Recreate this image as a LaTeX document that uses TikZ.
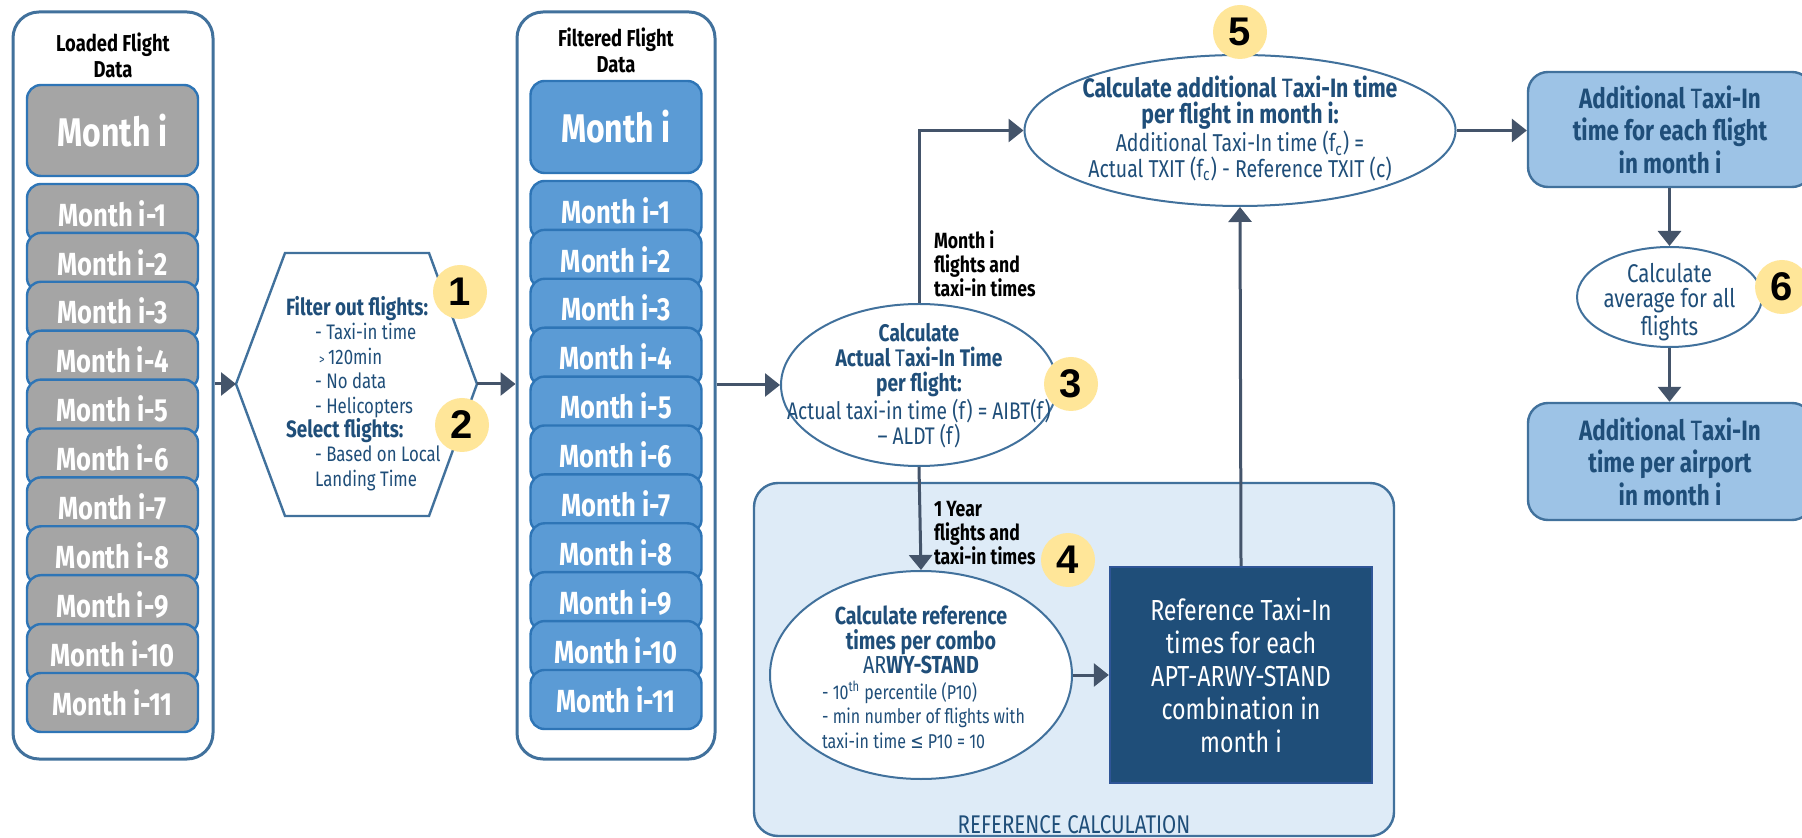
\documentclass[tikz,border=0pt]{standalone}
\usepackage{fontspec}
\setmainfont{Fira Sans}[FakeStretch=0.8]
\newfontfamily\numfont{Liberation Sans}
\newfontfamily\symfont{DejaVu Sans}[FakeStretch=0.8]
\usetikzlibrary{shapes.geometric,arrows.meta,calc}

\definecolor{arrowc}{HTML}{44546A}
\definecolor{frame}{HTML}{41719C}
\definecolor{mborder}{HTML}{2E75B6}
\definecolor{mgray}{HTML}{A5A5A5}
\definecolor{mblue}{HTML}{5B9BD5}
\definecolor{txtblue}{HTML}{1F4E79}
\definecolor{badgec}{HTML}{FFE699}
\definecolor{refbg}{HTML}{DEEBF7}
\definecolor{darkfill}{HTML}{1F4E79}
\definecolor{darkedge}{HTML}{2F5597}
\definecolor{resfill}{HTML}{9DC3E6}

\newcommand\fsz[2]{\fontsize{#1}{#2}\selectfont}

\tikzset{
  container/.style={draw=frame, line width=1.5pt, fill=white, rounded corners=13pt, inner sep=0pt},
  monthbox/.style={draw=mborder, line width=1.2pt, rounded corners=7pt, inner sep=0pt,
    minimum width=85.5pt, minimum height=29.5pt, text=white, font=\bfseries\fsz{16}{16}},
  graymonth/.style={monthbox, fill=mgray},
  bluemonth/.style={monthbox, fill=mblue},
  flow/.style={draw=arrowc, line width=1.5pt, -{Triangle[length=7.5pt,width=11.5pt]}},
  ell/.style={ellipse, draw=frame, line width=1pt, fill=white, inner sep=0pt},
  badge/.style={circle, fill=badgec, minimum size=27pt, inner sep=0pt,
    font=\numfont\bfseries\fsz{20}{20}},
  result/.style={draw=frame, line width=1.2pt, fill=resfill, rounded corners=10pt,
    inner sep=0pt, text=txtblue, align=center, font=\bfseries\fsz{14}{16.25}},
  tbody/.style={text=txtblue, align=center},
  sidelabel/.style={anchor=west, align=left, text=black, font=\bfseries\fsz{11}{12}}
}

\begin{document}
\begin{tikzpicture}[x=0.5pt, y=-0.5pt]
\useasboundingbox[fill=white] (0,0) rectangle (1802,838);

% ---- loaded flight data ----
\node[container, minimum width=100pt, minimum height=373.5pt] (loaded) at (113,385.5) {};
\node[align=center, font=\bfseries\fsz{11.5}{13}] (loadedt) at (113,55) {Loaded Flight\\Data};
\node[graymonth, minimum height=45.5pt, font=\bfseries\fsz{20}{20}] (lm0) at (112.5,130.5) {Month i};
\foreach \k in {1,...,11} {
  \pgfmathsetmacro\yc{184+(\k-1)*48.9+29.5}
  \node[graymonth] (lm\k) at (112.5,\yc) {Month i-\k};
}

% ---- filter step ----
\coordinate (hexL) at (236,384);
\coordinate (hexR) at (477,384);
\draw[draw=frame, line width=1.2pt, fill=white]
  (hexL) -- (285,253) -- (429,253) -- (hexR) -- (429,516) -- (285,516) -- cycle;
\node[anchor=west, align=left, text=txtblue, font=\fsz{10.5}{12.2}] (filtt) at (279,393.5)
  {{\bfseries\fsz{11.8}{12.2}Filter out flights:}\\
   \hspace*{14.5pt}- Taxi-in time\\
   \hspace*{16.5pt}{\fsz{7}{12.2}>}\,120min\\
   \hspace*{14.5pt}- No data\\
   \hspace*{14.5pt}- Helicopters\\
   {\bfseries\fsz{11.8}{12.2}Select flights:}\\
   \hspace*{14.5pt}- Based on Local\\
   \hspace*{14.5pt}Landing Time};
\node[badge] (b1) at (460,292) {1};
\node[badge] (b2) at (462,425) {2};

% ---- filtered flight data ----
\node[container, minimum width=99pt, minimum height=373.5pt] (filtered) at (616,385.5) {};
\node[align=center, font=\bfseries\fsz{11.5}{13}] (filteredt) at (616,50) {Filtered Flight\\Data};
\node[bluemonth, minimum height=46pt, font=\bfseries\fsz{20}{20}] (fm0) at (616,127) {Month i};
\foreach \k in {1,...,11} {
  \pgfmathsetmacro\yc{181+(\k-1)*48.9+29.5}
  \node[bluemonth] (fm\k) at (616,\yc) {Month i-\k};
}

% ---- reference calculation group ----
\node[draw=frame, line width=1.2pt, fill=refbg, rounded corners=12pt, inner sep=0pt,
  minimum width=320pt, minimum height=176.5pt] (refgrp) at (1074,659.5) {};
\node[text=txtblue, font=\fsz{12.8}{13}] (refgrpt) at (1074,825) {REFERENCE CALCULATION};

% ---- actual taxi-in time ----
\node[ell, minimum width=138pt, minimum height=81pt] (e3) at (919,385) {};
\node[tbody, font=\fsz{12}{12.6}] (e3t) at (919,385.5)
  {{\bfseries\fsz{12}{12.6}Calculate}\\
   {\bfseries\fsz{12}{12.6}Actual {\mdseries T}axi-In Time}\\
   {\bfseries\fsz{12}{12.6}per flight:}\\
   Actual taxi-in time (f) = AIBT(f)\\
   – ALDT (f)};
\node[badge] (b3) at (1071,384) {3};

% ---- reference times ----
\node[ell, minimum width=151pt, minimum height=104pt] (e4) at (921,675) {};
\node[tbody, font=\bfseries\fsz{12.3}{12.25}] (e4t) at (921,640)
  {Calculate reference\\times per combo\\{\mdseries AR}WY-STAND};
\node[anchor=west, align=left, text=txtblue, font=\fsz{10}{12.25}] (e4b) at (815,715)
  {- 10\textsuperscript{th} percentile (P10)\\
   - min number of flights with\\
   taxi-in time {\symfont ≤} P10 = 10};
\node[badge] (b4) at (1068,560) {4};

\node[draw=darkedge, line width=1.2pt, fill=darkfill, inner sep=0pt,
  minimum width=131pt, minimum height=108pt, text=white, align=center,
  font=\fsz{14.5}{16.5}] (refbox) at (1241,675)
  {Reference Taxi-In\\times for each\\APT-ARWY-STAND\\combination in\\month i};

% ---- additional taxi-in time ----
\node[ell, minimum width=215.5pt, minimum height=75.5pt] (e5) at (1240,130.5) {};
\node[tbody, font=\fsz{12.2}{12.85}] (e5t) at (1240,128.5)
  {{\bfseries\fsz{13.3}{12.85}Calculate additional {\mdseries T}axi-In time}\\
   {\bfseries\fsz{13.3}{12.85}per flight in month i:}\\
   Additional Taxi-In time (f\textsubscript{c}) =\\
   Actual TXIT (f\textsubscript{c}) - Reference TXIT (c)};
\node[badge] (b5) at (1240,32) {5};

\node[result, minimum width=142pt, minimum height=57.5pt] (res1) at (1670,129.5)
  {Additional {\mdseries T}axi-In\\time for each flight\\in month i};
\node[ell, minimum width=92.5pt, minimum height=50pt] (e6) at (1669.5,297) {};
\node[tbody, font=\fsz{12.8}{12.5}] (e6t) at (1669.5,302)
  {Calculate\\average for all\\flights};
\node[badge] (b6) at (1782,287) {6};
\node[result, minimum width=142pt, minimum height=58.5pt] (res2) at (1670,461.5)
  {Additional {\mdseries T}axi-In\\time per airport\\in month i};

% ---- connectors ----
\draw[flow] (hexL -| loaded.east) -- (hexL);
\draw[flow] (hexR) -- (hexR -| filtered.west);
\draw[flow] (e3.west -| filtered.east) -- (e3.west);
\draw[flow] (e3.north) |- (e5.west);
\draw[flow] (e3.south) -- (e4.north);
\draw[flow] (e4.east) -- (e4.east -| refbox.west);
\draw[flow] (refbox.north) -- (e5.south);
\draw[flow] (e5.east) -- (e5.east -| res1.west);
\draw[flow] (res1.south -| e6.north) -- (e6.north);
\draw[flow] (e6.south) -- (e6.south |- res2.north);

\node[sidelabel] (lab1) at (927,264) {Month i\\flights and\\taxi-in times};
\node[sidelabel] (lab2) at (927,533) {1 Year\\flights and\\taxi-in times};
\end{tikzpicture}
\end{document}
